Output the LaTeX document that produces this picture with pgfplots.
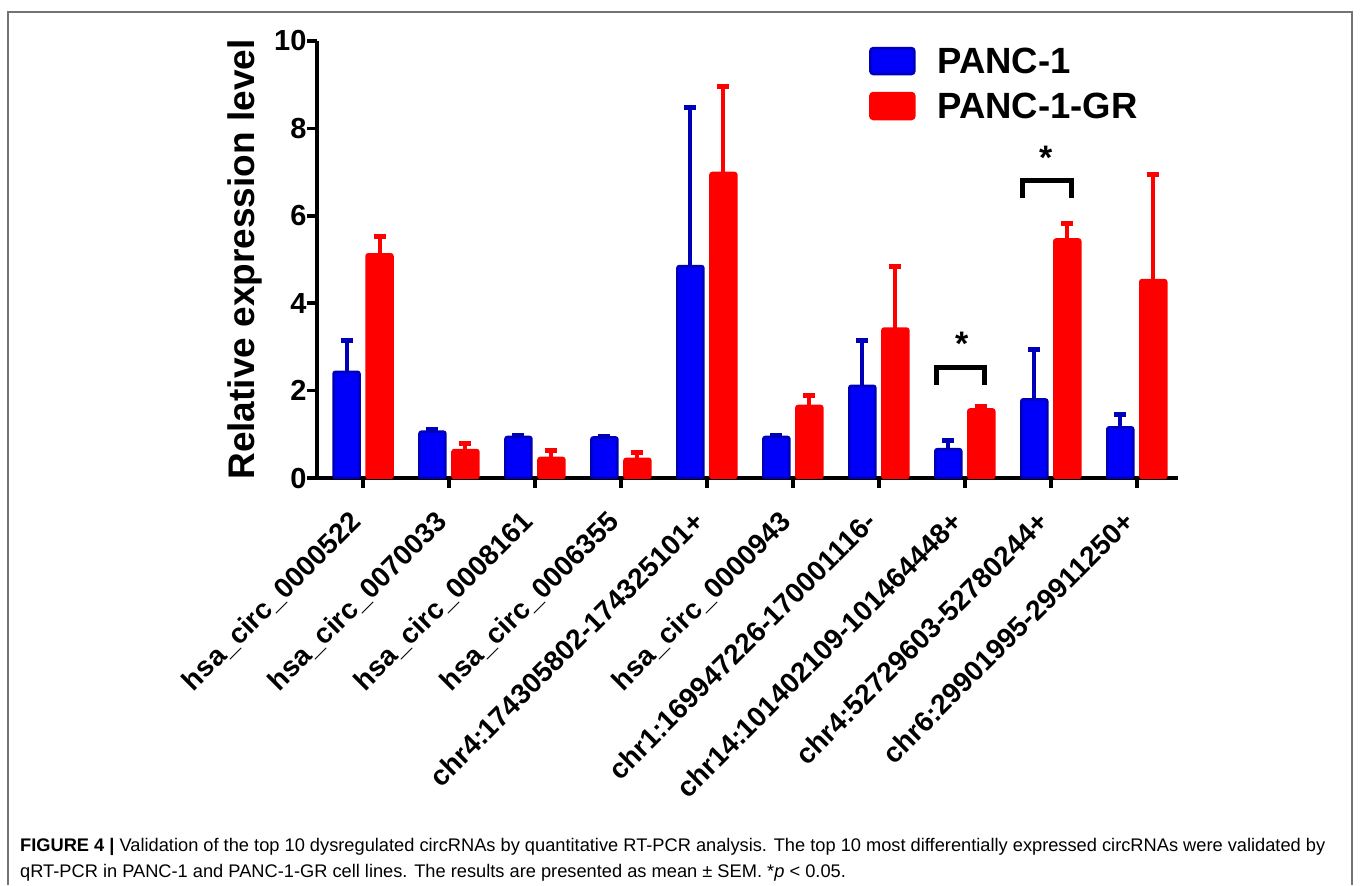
\documentclass[border=0pt]{standalone}
\usepackage{fontspec}
\setmainfont{Liberation Sans}
\usepackage{pgfplots}
\usepackage{pgfplotstable}
\pgfplotsset{compat=1.18}
\definecolor{pblue}{RGB}{0,0,250}
\definecolor{pblueedge}{RGB}{0,0,185}
\definecolor{pred}{RGB}{255,0,0}

\pgfplotstableread{
x y e
0 2.43 0.71
1 1.06 0.06
2 0.94 0.03
3 0.93 0.03
4 4.85 3.62
5 0.94 0.03
6 2.11 1.03
7 0.66 0.19
8 1.80 1.13
9 1.16 0.30
}\panc

\pgfplotstableread{
x y e
0 5.12 0.40
1 0.64 0.16
2 0.46 0.16
3 0.44 0.15
4 6.98 1.97
5 1.65 0.23
6 3.42 1.41
7 1.57 0.06
8 5.46 0.36
9 4.53 2.42
}\pancgr

\begin{document}
\begin{tikzpicture}[x=1bp,y=1bp]
\useasboundingbox (0,0) rectangle (1360,-885);
\draw[line width=1.5bp, black!55] (8,-885) -- (8,-12) -- (1352,-12) -- (1352,-885);
\begin{axis}[
  at={(317bp,-478bp)}, anchor=south west,
  scale only axis, width=861bp, height=437bp,
  xmin=-0.535, xmax=9.48, ymin=0, ymax=10,
  axis x line*=bottom, axis y line*=left,
  axis line style={line width=3.5bp, black},
  ytick={0,2,4,6,8,10},
  xtick={0,...,9},
  xticklabels={hsa\_circ\_0000522, hsa\_circ\_0070033, hsa\_circ\_0008161, hsa\_circ\_0006355, chr4:174305802-174325101+, hsa\_circ\_0000943, chr1:169947226-170001116-, chr14:101402109-101464448+, chr4:52729603-52780244+, chr6:29901995-29911250+},
  tick style={line width=3.5bp, black},
  major tick length=10bp, tick align=outside,
  /pgf/number format/assume math mode=true,
  y tick label style={font=\bfseries\fontsize{29bp}{29bp}\selectfont, xshift=3bp},
  x tick label style={font=\bfseries\fontsize{28bp}{28bp}\selectfont, xshift=-15bp, yshift=-21bp, rotate=45, anchor=north east, inner sep=0bp},
  ylabel={Relative expression level},
  y label style={at={(axis description cs:-0.0836,0.5)}, anchor=center, font=\bfseries\fontsize{37bp}{37bp}\selectfont},
  ybar=7bp, bar width=26bp,
  legend style={at={(rel axis cs:0.641,0.99)}, anchor=north west, draw=none, fill=none,
    font=\bfseries\fontsize{36.5bp}{36.5bp}\selectfont, row sep=14bp, inner sep=0pt,
    nodes={inner xsep=22bp}},
  legend cell align=left,
  legend image code/.code={\draw[#1, line width=2.5bp, rounded corners=3bp] (0bp,-13bp) rectangle (44bp,13bp);},
]
\addplot+[fill=pblue, draw=pblueedge, line width=2.5bp, rounded corners=2bp,
  error bars/.cd, y dir=plus, y explicit,
  error bar style={line width=4bp, pblueedge, rounded corners=0pt},
  error mark options={rotate=90, line width=5bp, mark size=6bp, pblueedge}]
  table[x=x, y=y, y error=e] {\panc};
\addplot+[fill=pred, draw=pred, line width=2.5bp, rounded corners=2bp,
  error bars/.cd, y dir=plus, y explicit,
  error bar style={line width=4bp, pred, rounded corners=0pt},
  error mark options={rotate=90, line width=5bp, mark size=6bp, pred}]
  table[x=x, y=y, y error=e] {\pancgr};
\legend{PANC-1, PANC-1-GR}
\draw[line width=5bp, black] (axis cs:6.674,2.13) -- (axis cs:6.674,2.54) -- (axis cs:7.233,2.54) -- (axis cs:7.233,2.13);
\draw[line width=5bp, black] (axis cs:7.674,6.41) -- (axis cs:7.674,6.80) -- (axis cs:8.244,6.80) -- (axis cs:8.244,6.41);
\node[font=\bfseries\fontsize{34bp}{34bp}\selectfont, anchor=base, yshift=-19bp] at (axis cs:6.965,3.23) {*};
\node[font=\bfseries\fontsize{34bp}{34bp}\selectfont, anchor=base, yshift=-19bp] at (axis cs:7.94,7.5) {*};
\end{axis}
\node[anchor=base west, inner sep=0pt, font=\fontsize{18.25bp}{20bp}\selectfont] at (20,-851) {\textbf{FIGURE 4 |} Validation of the top 10 dysregulated circRNAs by quantitative RT-PCR analysis. The top 10 most differentially expressed circRNAs were validated by};
\node[anchor=base west, inner sep=0pt, font=\fontsize{18.25bp}{20bp}\selectfont] at (20,-877) {qRT-PCR in PANC-1 and PANC-1-GR cell lines. The results are presented as mean ± SEM. *\textit{p} < 0.05.};
\end{tikzpicture}
\end{document}
